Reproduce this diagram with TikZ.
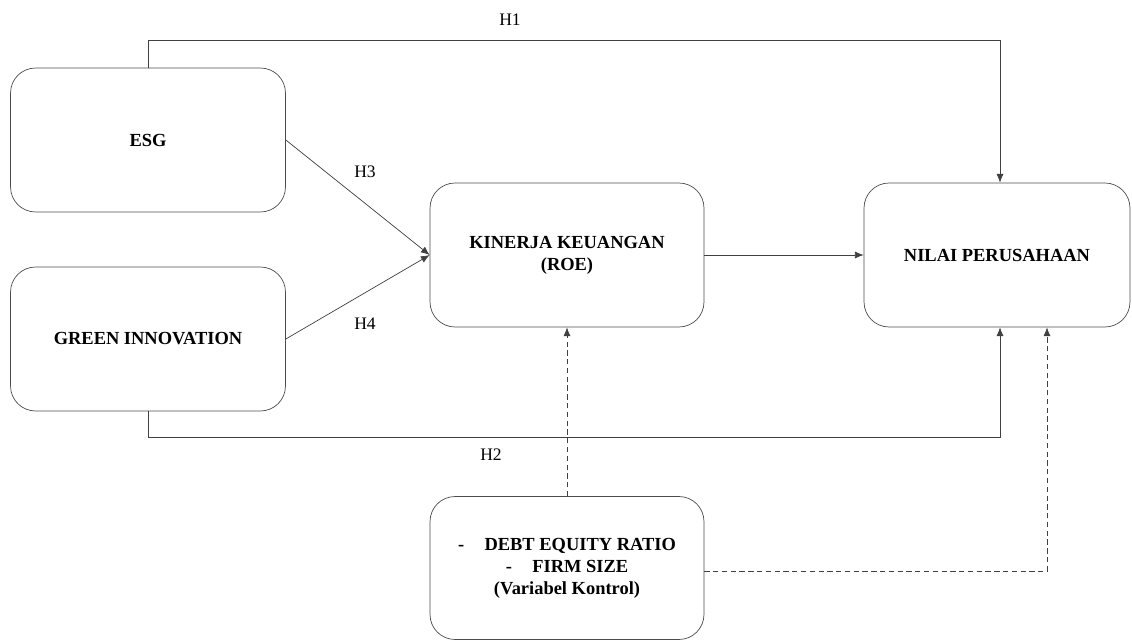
\documentclass[tikz,border=0pt]{standalone}
\usepackage{fontspec}
\setmainfont{Liberation Serif}
\usetikzlibrary{arrows.meta}
\usetikzlibrary{positioning}

\begin{document}
\begin{tikzpicture}[x=0.02cm, y=-0.02cm,
        box/.style={draw=black!70, rounded corners=0.5cm, minimum width=5.5cm, minimum height=2.88cm,
            align=center, inner sep=0pt, font=\fontsize{10.5}{12.5}\selectfont\bfseries},
        link/.style={draw=black!75, -{Latex[length=5pt,width=4pt]}},
        ctrl/.style={link, densely dashed},
        hyp/.style={font=\fontsize{10}{12}\selectfont}]
        \useasboundingbox (0,0) rectangle (1132,642);

        \node[box] (esg) at (148,140) {ESG};
        \node[box] (green) at (148,339) {GREEN INNOVATION};
        \node[box, minimum width=5.48cm] (kinerja) at (567,255) {KINERJA KEUANGAN\\(ROE)};
        \node[box, minimum width=5.32cm] (nilai) at (997,255) {NILAI PERUSAHAAN};
        \node[box, minimum width=5.48cm, minimum height=2.86cm] (kontrol) at (567,568)
            {-\hspace{1.1em}DEBT EQUITY RATIO\\-\hspace{1.1em}FIRM SIZE\\(Variabel Kontrol)};

        \coordinate (h1a) at (148,40);
        \coordinate (h1b) at (1000,40);
        \coordinate (h2a) at (148,437);
        \coordinate (h2b) at (1000,437);
        \coordinate (dk) at (1047,571);

        % direct paths
        \draw[link] (esg.north) -- (h1a) -- (h1b) -- (h1b |- nilai.north);
        \draw[link] (green.south) -- (h2a) -- (h2b) -- (h2b |- nilai.south);
        % via kinerja
        \draw[link] (esg.east) -- (kinerja.west);
        \draw[link] (green.east) -- (kinerja.west);
        \draw[link] (kinerja.east) -- (nilai.west);
        % control variables
        \draw[ctrl] (kontrol.north) -- (kinerja.south);
        \draw[ctrl] (kontrol.east |- dk) -- (dk) -- (dk |- nilai.south);

        \node[hyp] (lh1) at (510,20) {H1};
        \node[hyp] (lh2) at (491,455) {H2};
        \node[hyp] (lh3) at (365,172) {H3};
        \node[hyp] (lh4) at (365,324) {H4};
\end{tikzpicture}
\end{document}
